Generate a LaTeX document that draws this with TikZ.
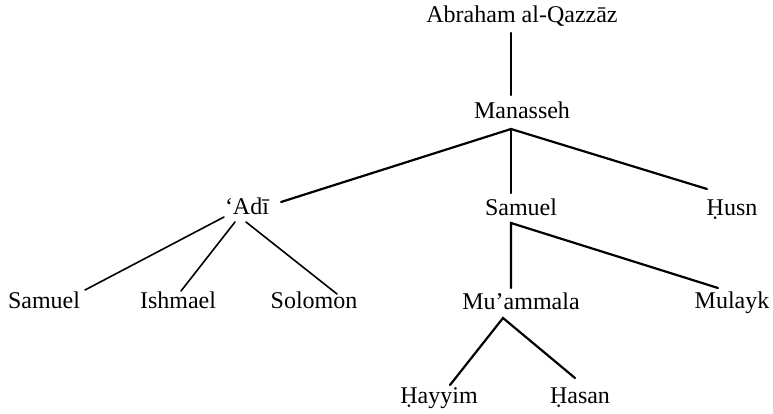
\documentclass[tikz,border=0pt]{standalone}
\usepackage{fontspec}
\setmainfont{Liberation Serif}
\begin{document}
\begin{tikzpicture}[x=1pt,y=-1pt,
  person/.style={anchor=base,inner sep=0pt,font=\fontsize{24}{27}\selectfont},
  link/.style={line width=1.6pt,line cap=round},
  thick link/.style={line width=2.2pt,line cap=round}]
\useasboundingbox (0,0) rectangle (773,414);
% people
\node[person] (abr) at (522,23) {Abraham al-Qazzāz};
\node[person] (man) at (522,119) {Manasseh};
\node[person] (adi) at (247,214) {‘Adī};
\node[person] (sam) at (521,215) {Samuel};
\node[person] (husn) at (732,215) {Ḥusn};
\node[person] (samL) at (44,308) {Samuel};
\node[person] (ish) at (178,308) {Ishmael};
\node[person] (sol) at (314,308) {Solomon};
\node[person] (mua) at (521,309) {Mu’ammala};
\node[person] (mul) at (732,308) {Mulayk};
\node[person] (hay) at (439,403) {Ḥayyim};
\node[person] (has) at (580,403) {Ḥasan};
% junction points
\coordinate (abrB) at (511,33);
\coordinate (manT) at (511,95);
\coordinate (manJ) at (511,129);
\coordinate (adiE) at (281,202);
\coordinate (samT) at (511,193);
\coordinate (husnE) at (707,189);
\coordinate (adiA) at (224,217);
\coordinate (adiB) at (235,222);
\coordinate (adiC) at (246,222);
\coordinate (samLE) at (85,290);
\coordinate (ishE) at (181,291);
\coordinate (solE) at (337,294);
\coordinate (samJ) at (511,223);
\coordinate (muaT) at (511,288);
\coordinate (mulE) at (718,288);
\coordinate (muaJ) at (503,318);
\coordinate (hayE) at (450,385);
\coordinate (hasE) at (575,378);
% connectors
\draw[thick link] (abrB) -- (manT);
\draw[thick link] (adiE) -- (manJ) -- (husnE);
\draw[thick link] (manJ) -- (samT);
\draw[link] (adiA) -- (samLE);
\draw[link] (adiB) -- (ishE);
\draw[link] (adiC) -- (solE);
\draw[thick link] (muaT) -- (samJ) -- (mulE);
\draw[thick link] (hayE) -- (muaJ) -- (hasE);
\end{tikzpicture}
\end{document}
